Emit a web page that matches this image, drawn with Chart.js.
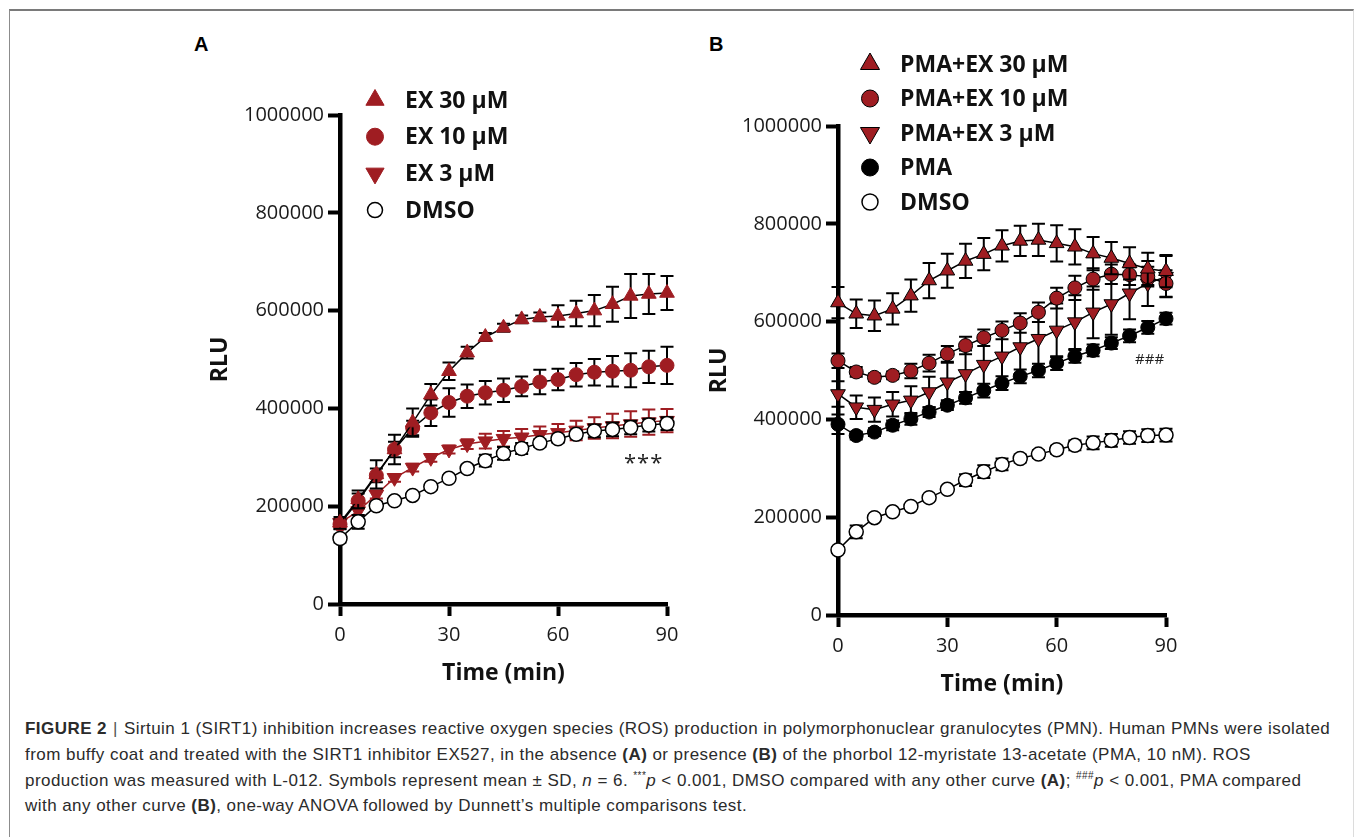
<!DOCTYPE html>
<html>
<head>
<meta charset="utf-8">
<script src="https://cdn.jsdelivr.net/npm/chart.js@4/dist/chart.umd.min.js"></script>
<style>
  html, body { margin: 0; padding: 0; background: #fff; }
  body { width: 1355px; height: 837px; position: relative; overflow: hidden; font-family: "Liberation Sans", Arial, sans-serif; }
  #frame { position: absolute; left: 9px; top: 9px; width: 1343px; height: 900px; border-top: 2px solid #7a7a7a; border-left: 1.5px solid #8c8c8c; border-right: 1.5px solid #dcdcdc; }
  canvas { position: absolute; }
  #cA { left: 0; top: 0; }
  #cB { left: 690px; top: 0; }
  .panel { position: absolute; font-weight: bold; font-size: 20px; color: #000; }
  .sig { position: absolute; font-family: "Open Sans", sans-serif; color: #222; }
  #caption { position: absolute; left: 25px; top: 716px; font-size: 17px; letter-spacing: 0.45px; line-height: 25.8px; color: #2b2b2b; white-space: nowrap; }
  #caption .bar { color: #555; padding: 0 6px; }
  #caption .up { font-size: 10px; position: relative; top: -7px; line-height: 0; }
</style>
</head>
<body>
<div id="frame"></div>
<div class="panel" style="left:194px; top:33px;">A</div>
<div class="panel" style="left:709px; top:33px;">B</div>
<canvas id="cA" width="700" height="700"></canvas>
<canvas id="cB" width="665" height="710"></canvas>
<div class="sig" style="left:624px; top:446px; font-size:22px; letter-spacing:1px;">***</div>
<div class="sig" style="left:1135px; top:348px; font-size:15px;">###</div>
<div id="caption">
<b>FIGURE 2</b><span class="bar">|</span>Sirtuin 1 (SIRT1) inhibition increases reactive oxygen species (ROS) production in polymorphonuclear granulocytes (PMN). Human PMNs were isolated<br>
from buffy coat and treated with the SIRT1 inhibitor EX527, in the absence <b>(A)</b> or presence <b>(B)</b> of the phorbol 12-myristate 13-acetate (PMA, 10 nM). ROS<br>
production was measured with L-012. Symbols represent mean ± SD, <i>n</i> = 6. <span class="up">***</span><i>p</i> &lt; 0.001, DMSO compared with any other curve <b>(A)</b>; <span class="up">###</span><i>p</i> &lt; 0.001, PMA compared<br>
with any other curve <b>(B)</b>, one-way ANOVA followed by Dunnett’s multiple comparisons test.
</div>
<script>
// time points (min), shared by both panels
const TIME = [0, 5, 10, 15, 20, 25, 30, 35, 40, 45, 50, 55, 60, 65, 70, 75, 80, 85, 90];
const X_TICKS = [0, 30, 60, 90];
const Y_TICKS = [0, 200000, 400000, 600000, 800000, 1000000];

// Panel A: EX527 alone (mean, SD)
const A_EX30    = [166000, 214000, 265000, 316000, 371000, 428000, 476000, 514000, 546000, 565000, 582000, 587000, 589000, 594000, 600000, 613000, 630000, 634000, 636000];
const A_EX30_SD = [12000, 18000, 29000, 30000, 29000, 22000, 18000, 12000, 8000, 8000, 8000, 9000, 22000, 26000, 32000, 36000, 45000, 41000, 35000];
const A_EX10    = [163000, 211000, 263000, 316000, 360000, 391000, 412000, 425000, 432000, 437000, 445000, 454000, 459000, 469000, 474000, 476000, 478000, 485000, 488000];
const A_EX10_SD = [10000, 15000, 14000, 16000, 15000, 27000, 29000, 24000, 24000, 24000, 20000, 25000, 22000, 24000, 27000, 31000, 35000, 33000, 38000];
const A_EX3     = [166000, 190000, 224000, 258000, 279000, 299000, 316000, 327000, 333000, 338000, 341000, 346000, 350000, 355000, 360000, 364000, 368000, 372000, 375000];
const A_EX3_SD  = [8000, 8000, 8000, 8000, 8000, 8000, 8000, 10000, 15000, 16000, 17000, 17000, 18000, 20000, 22000, 25000, 26000, 26000, 24000];
const A_DMSO    = [134000, 168000, 201000, 211000, 222000, 240000, 257000, 277000, 293000, 308000, 318000, 329000, 338000, 347000, 354000, 357000, 361000, 366000, 369000];
const A_DMSO_SD = [8000, 14000, 8000, 6000, 6000, 6000, 6000, 8000, 12000, 13000, 11000, 8000, 8000, 8000, 13000, 14000, 14000, 13000, 13000];

// Panel B: with PMA (mean, SD)
const B_EX30    = [639000, 616000, 612000, 626000, 653000, 684000, 704000, 724000, 738000, 755000, 765000, 767000, 760000, 753000, 739000, 730000, 719000, 708000, 703000];
const B_EX30_SD = [32000, 29000, 31000, 32000, 33000, 36000, 35000, 35000, 33000, 32000, 31000, 33000, 37000, 36000, 34000, 33000, 33000, 33000, 33000];
const B_EX10    = [520000, 497000, 486000, 490000, 499000, 515000, 534000, 551000, 567000, 582000, 597000, 619000, 648000, 669000, 687000, 697000, 696000, 692000, 678000];
const B_EX10_SD = [15000, 10000, 8000, 8000, 15000, 17000, 16000, 18000, 17000, 18000, 20000, 20000, 21000, 25000, 22000, 20000, 21000, 20000, 27000];
const B_EX3     = [452000, 425000, 420000, 431000, 439000, 456000, 476000, 493000, 512000, 529000, 548000, 565000, 582000, 599000, 619000, 636000, 658000, 678000, 692000];
const B_EX3_SD  = [26000, 24000, 25000, 25000, 29000, 31000, 40000, 48000, 48000, 52000, 55000, 58000, 55000, 55000, 53000, 63000, 53000, 46000, 42000];
const B_PMA     = [390000, 367000, 374000, 388000, 401000, 415000, 429000, 444000, 459000, 474000, 488000, 500000, 515000, 529000, 541000, 556000, 571000, 588000, 606000];
const B_PMA_SD  = [20000, 8000, 8000, 10000, 12000, 10000, 10000, 12000, 14000, 14000, 14000, 14000, 14000, 13000, 12000, 12000, 13000, 13000, 12000];
const B_DMSO    = [133000, 170000, 199000, 211000, 222000, 240000, 257000, 276000, 293000, 308000, 320000, 329000, 338000, 347000, 352000, 357000, 363000, 367000, 368000];
const B_DMSO_SD = [6000, 13000, 6000, 5000, 5000, 5000, 6000, 12000, 13000, 12000, 8000, 8000, 8000, 10000, 13000, 13000, 13000, 13000, 13000];

const RED = "#9f1d22";
const TICK_FONT = { family: "Open Sans", size: 20 };
const TITLE_FONT = { family: "Open Sans", size: 23, weight: "bold", lineHeight: 1 };

function makeSet(label, values, sd, st){
  return {
    label, sd,
    data: values.map((v, i) => ({ x: TIME[i], y: v })),
    borderColor: st.line, borderWidth: 1.5, tension: 0, fill: false, clip: false,
    pointStyle: st.shape, pointRotation: st.rot || 0, pointRadius: st.r, pointHoverRadius: st.r,
    pointBackgroundColor: st.fill, pointBorderColor: st.edge, pointBorderWidth: st.ew,
    errColor: st.err || "#000", legendR: st.lr, order: st.order
  };
}

// SD whiskers, drawn just under each dataset
const errorBars = {
  id: "errorBars",
  beforeDatasetDraw(chart, args){
    const ds = chart.data.datasets[args.index];
    if(!ds.sd) return;
    const { ctx, scales: { x, y } } = chart;
    ctx.save();
    ctx.strokeStyle = ds.errColor;
    ctx.lineWidth = 2;
    ds.data.forEach((p, i) => {
      const px = x.getPixelForValue(p.x);
      const hi = y.getPixelForValue(p.y + ds.sd[i]);
      const lo = y.getPixelForValue(p.y - ds.sd[i]);
      ctx.beginPath();
      ctx.moveTo(px, hi); ctx.lineTo(px, lo);
      ctx.moveTo(px - 6.5, hi); ctx.lineTo(px + 6.5, hi);
      ctx.moveTo(px - 6.5, lo); ctx.lineTo(px + 6.5, lo);
      ctx.stroke();
    });
    ctx.restore();
  }
};

// stacked symbol legend sitting over the plot
const rowLegend = {
  id: "rowLegend",
  afterDraw(chart, args, o){
    const ctx = chart.ctx;
    ctx.save();
    ctx.font = "bold 23px 'Open Sans'";
    ctx.textBaseline = "middle";
    chart.data.datasets.forEach((ds, i) => {
      const y = o.top + i * o.gap;
      ctx.fillStyle = ds.pointBackgroundColor;
      ctx.strokeStyle = ds.pointBorderColor;
      ctx.lineWidth = ds.pointBorderWidth;
      Chart.helpers.drawPoint(ctx, { pointStyle: ds.pointStyle, rotation: ds.pointRotation, radius: ds.legendR, borderWidth: ds.pointBorderWidth }, o.x, y);
      ctx.fillStyle = "#111";
      ctx.fillText(ds.label, o.textX, y + 1);
    });
    ctx.restore();
  }
};

function makeScales(yWidth, yTitlePad){
  return {
    x: {
      type: "linear", min: 0, max: 90,
      afterBuildTicks: s => { s.ticks = X_TICKS.map(v => ({ value: v })); },
      afterFit: s => { s.height = 82; },
      grid: { drawOnChartArea: false, drawTicks: true, tickLength: 12, tickWidth: 4, tickColor: "#000" },
      border: { display: true, color: "#000", width: 4.5 },
      ticks: { font: TICK_FONT, color: "#1a1a1a", padding: 7, maxRotation: 0 },
      title: { display: true, text: "Time (min)", font: TITLE_FONT, color: "#111", padding: { top: 0, bottom: 1 } }
    },
    y: {
      type: "linear", min: 0, max: 1000000,
      afterBuildTicks: s => { s.ticks = Y_TICKS.map(v => ({ value: v })); },
      afterFit: s => { s.width = yWidth; },
      grid: { drawOnChartArea: false, drawTicks: true, tickLength: 12, tickWidth: 4, tickColor: "#000" },
      border: { display: true, color: "#000", width: 4.5 },
      ticks: { font: TICK_FONT, color: "#1a1a1a", padding: 4, callback: v => String(v) },
      title: { display: true, text: "RLU", font: TITLE_FONT, color: "#111", padding: { top: yTitlePad, bottom: 0 } }
    }
  };
}

function makeChart(id, datasets, padding, yWidth, yTitlePad, legend){
  return new Chart(document.getElementById(id), {
    type: "line",
    data: { datasets },
    options: {
      responsive: false, animation: false, devicePixelRatio: 1,
      layout: { padding },
      plugins: { legend: { display: false }, tooltip: { enabled: false }, rowLegend: legend },
      scales: makeScales(yWidth, yTitlePad)
    },
    plugins: [errorBars, rowLegend]
  });
}

makeChart("cA", [
  makeSet("EX 30 µM", A_EX30, A_EX30_SD, { line: "#000", shape: "triangle", r: 8.5, lr: 10.5, fill: RED, edge: RED, ew: 1, order: 1 }),
  makeSet("EX 10 µM", A_EX10, A_EX10_SD, { line: "#000", shape: "circle", r: 7, lr: 8.5, fill: RED, edge: RED, ew: 1, order: 2 }),
  makeSet("EX 3 µM", A_EX3, A_EX3_SD, { line: RED, shape: "triangle", rot: 180, r: 8.5, lr: 10.5, fill: RED, edge: RED, ew: 1, err: RED, order: 3 }),
  makeSet("DMSO", A_DMSO, A_DMSO_SD, { line: "#000", shape: "circle", r: 7, lr: 7.5, fill: "#fff", edge: "#000", ew: 1.5, order: 0 })
], { left: 190, top: 115, right: 33, bottom: 14 }, 150, 18.5, { x: 375, textX: 405, top: 100, gap: 36.7 });

makeChart("cB", [
  makeSet("PMA+EX 30 µM", B_EX30, B_EX30_SD, { line: "#000", shape: "triangle", r: 8.5, lr: 11, fill: RED, edge: "#000", ew: 1, order: 1 }),
  makeSet("PMA+EX 10 µM", B_EX10, B_EX10_SD, { line: "#000", shape: "circle", r: 7, lr: 8.5, fill: RED, edge: "#000", ew: 1, order: 2 }),
  makeSet("PMA+EX 3 µM", B_EX3, B_EX3_SD, { line: "#000", shape: "triangle", rot: 180, r: 8.5, lr: 11, fill: RED, edge: "#000", ew: 1, order: 3 }),
  makeSet("PMA", B_PMA, B_PMA_SD, { line: "#000", shape: "circle", r: 7, lr: 8.5, fill: "#000", edge: "#000", ew: 1, order: 4 }),
  makeSet("DMSO", B_DMSO, B_DMSO_SD, { line: "#000", shape: "circle", r: 7, lr: 8, fill: "#fff", edge: "#000", ew: 1.5, order: 0 })
], { left: 8, top: 126, right: 189, bottom: 13 }, 140, 9.5, { x: 180, textX: 210, top: 64, gap: 34.5 });
</script>
</body>
</html>
